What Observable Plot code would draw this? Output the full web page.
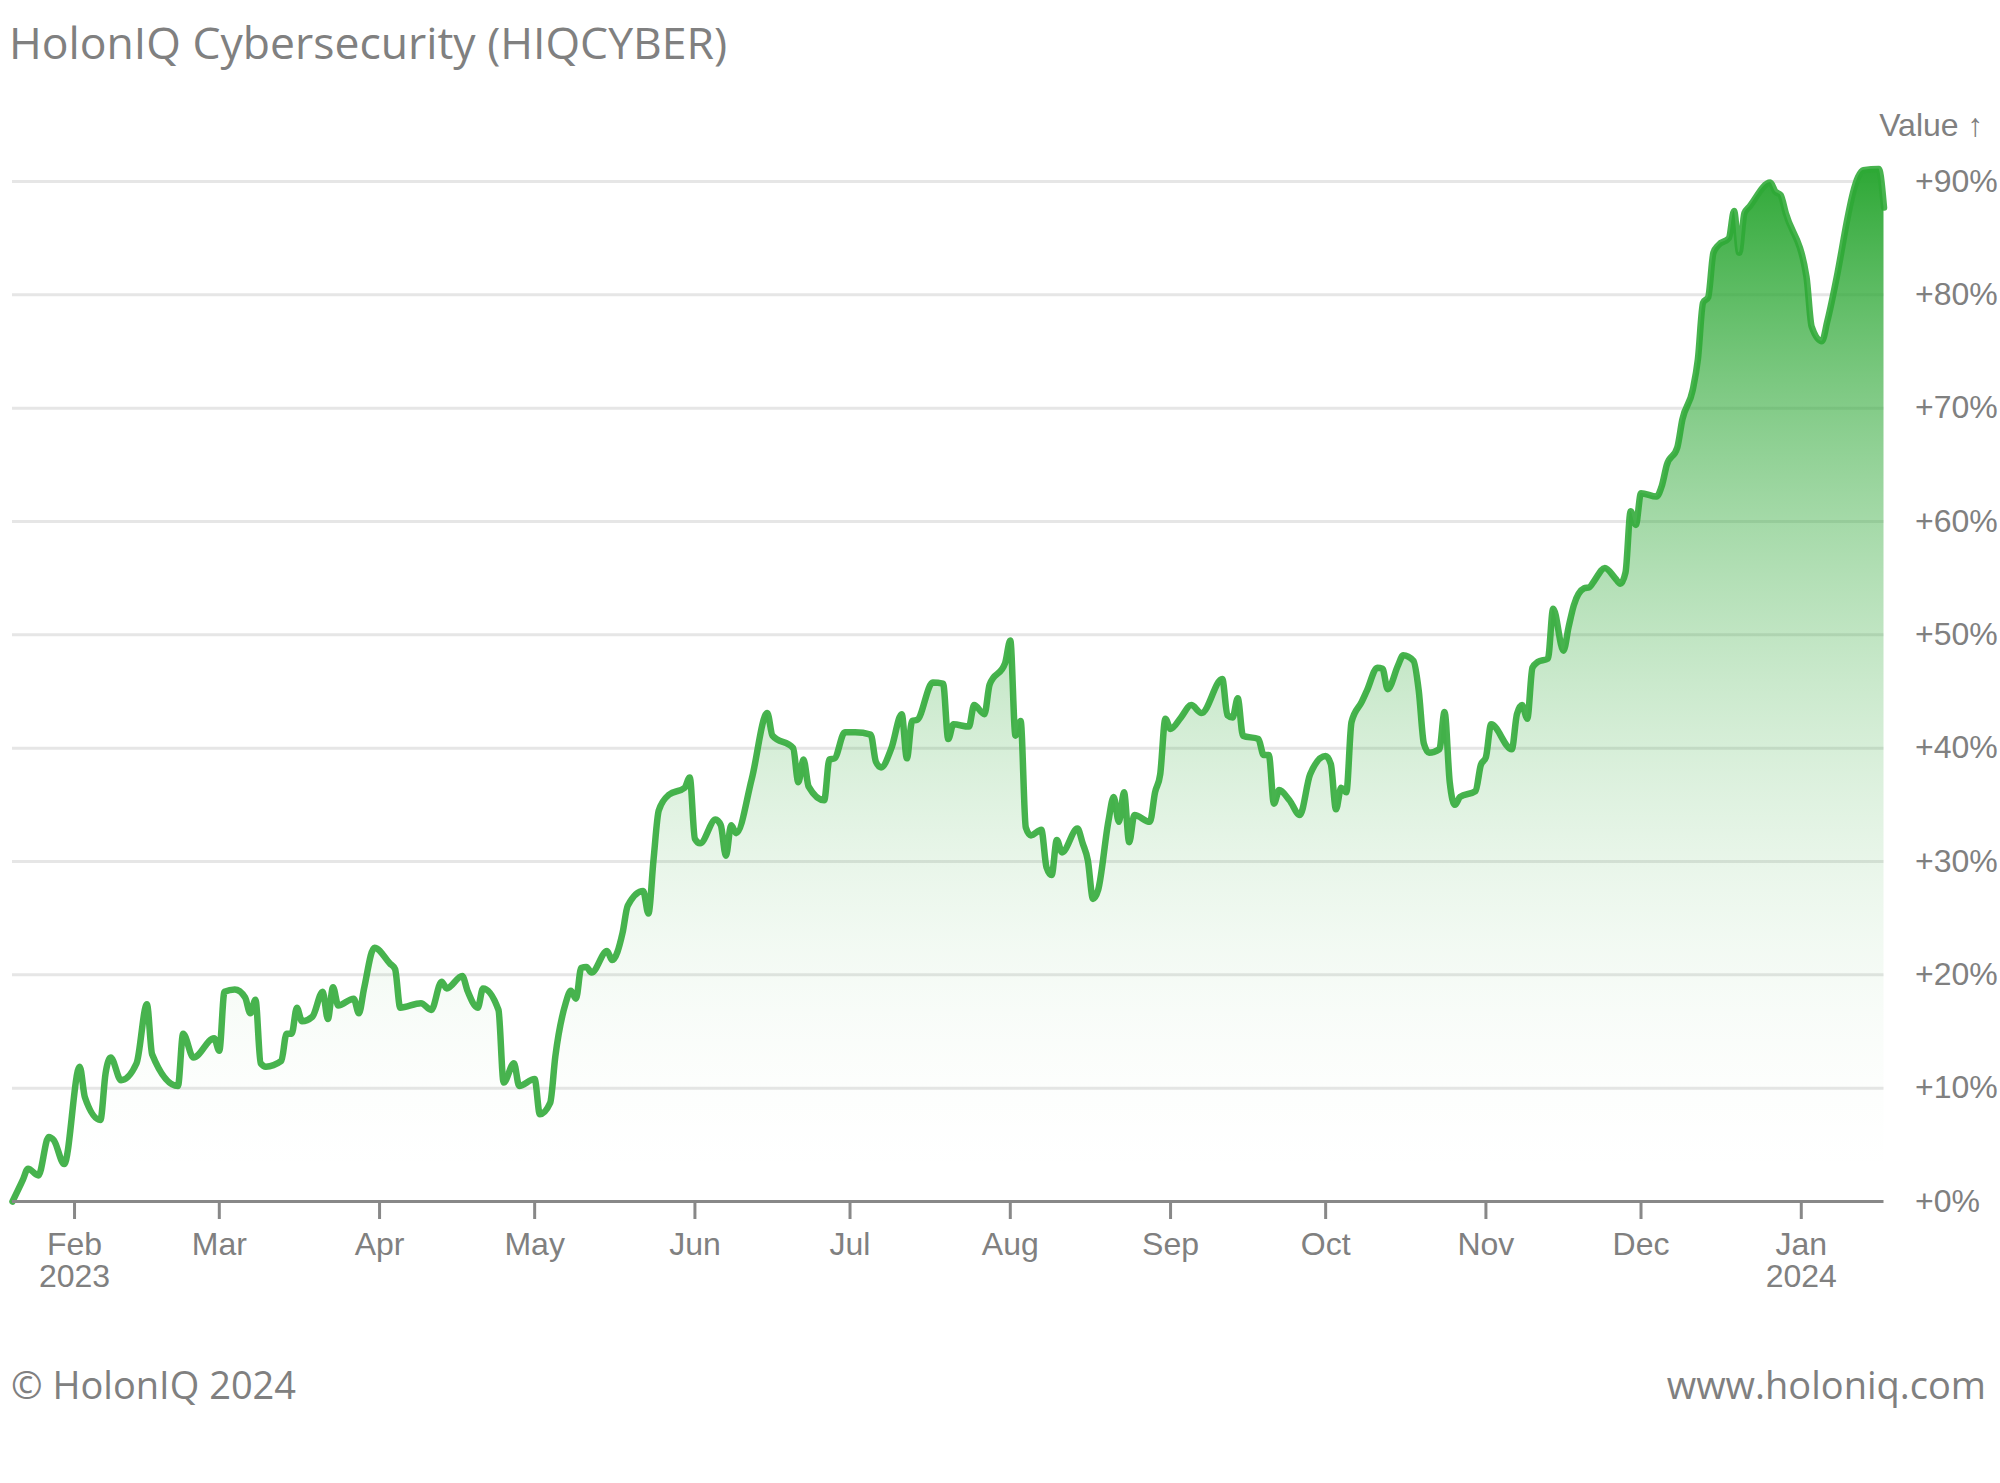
<!DOCTYPE html>
<html><head><meta charset="utf-8">
<script src="https://cdn.jsdelivr.net/npm/d3@7"></script>
<script src="https://cdn.jsdelivr.net/npm/@observablehq/plot@0.6"></script>
<style>
html,body{margin:0;padding:0;background:#fff;}
#title{height:110px;line-height:84px;font-family:"Open Sans",sans-serif;font-size:44.5px;color:#808080;padding-left:9px;white-space:nowrap;}
#footer{display:flex;justify-content:space-between;height:168px;line-height:168px;font-family:"Open Sans",sans-serif;font-size:38px;color:#808080;padding:0 14px 0 11px;}
svg{display:block;}
</style></head><body>
<div id="title">HolonIQ Cybersecurity (HIQCYBER)</div>
<div id="chart"></div>
<div id="footer"><span>© HolonIQ 2024</span><span>www.holoniq.com</span></div>
<script>
const dates = [
"2023-01-20","2023-01-22","2023-01-23","2023-01-25","2023-01-27","2023-01-28","2023-01-30",
"2023-02-02","2023-02-03","2023-02-06","2023-02-07","2023-02-08","2023-02-10","2023-02-13","2023-02-15","2023-02-16","2023-02-21","2023-02-22","2023-02-24","2023-02-28",
"2023-03-01","2023-03-02","2023-03-04","2023-03-06","2023-03-07","2023-03-08","2023-03-09","2023-03-10","2023-03-13","2023-03-14","2023-03-15","2023-03-16","2023-03-17","2023-03-19","2023-03-21","2023-03-22","2023-03-23","2023-03-24","2023-03-27","2023-03-28","2023-03-29","2023-03-31",
"2023-04-03","2023-04-04","2023-04-05","2023-04-09","2023-04-11","2023-04-13","2023-04-14","2023-04-17","2023-04-18","2023-04-20","2023-04-21","2023-04-24","2023-04-25","2023-04-27","2023-04-28",
"2023-05-01","2023-05-02","2023-05-04","2023-05-05","2023-05-07","2023-05-08","2023-05-09","2023-05-10","2023-05-11","2023-05-12","2023-05-15","2023-05-16","2023-05-18","2023-05-19","2023-05-22","2023-05-23","2023-05-24","2023-05-25","2023-05-27","2023-05-30","2023-05-31",
"2023-06-01","2023-06-02","2023-06-05","2023-06-06","2023-06-07","2023-06-08","2023-06-09","2023-06-12","2023-06-15","2023-06-16","2023-06-20","2023-06-21","2023-06-22","2023-06-23","2023-06-26","2023-06-27","2023-06-28","2023-06-30",
"2023-07-02","2023-07-05","2023-07-06","2023-07-07","2023-07-09","2023-07-11","2023-07-12","2023-07-13","2023-07-14","2023-07-17","2023-07-19","2023-07-20","2023-07-21","2023-07-24","2023-07-25","2023-07-27","2023-07-28","2023-07-31",
"2023-08-01","2023-08-02","2023-08-03","2023-08-04","2023-08-05","2023-08-07","2023-08-08","2023-08-09","2023-08-10","2023-08-11","2023-08-14","2023-08-15","2023-08-16","2023-08-17","2023-08-18","2023-08-20","2023-08-21","2023-08-22","2023-08-23","2023-08-24","2023-08-25","2023-08-28","2023-08-29","2023-08-30","2023-08-31",
"2023-09-01","2023-09-03","2023-09-05","2023-09-07","2023-09-11","2023-09-12","2023-09-13","2023-09-14","2023-09-15","2023-09-18","2023-09-19","2023-09-20","2023-09-21","2023-09-22","2023-09-24","2023-09-26","2023-09-28",
"2023-10-01","2023-10-02","2023-10-03","2023-10-04","2023-10-05","2023-10-06","2023-10-08","2023-10-09","2023-10-11","2023-10-12","2023-10-13","2023-10-15","2023-10-16","2023-10-18","2023-10-19","2023-10-20","2023-10-21","2023-10-23","2023-10-24","2023-10-25","2023-10-26","2023-10-27","2023-10-30","2023-10-31",
"2023-11-01","2023-11-02","2023-11-06","2023-11-07","2023-11-08","2023-11-09","2023-11-10","2023-11-11","2023-11-13","2023-11-14","2023-11-16","2023-11-17","2023-11-18","2023-11-20","2023-11-21","2023-11-22","2023-11-24","2023-11-26","2023-11-27","2023-11-28","2023-11-29","2023-11-30",
"2023-12-01","2023-12-04","2023-12-05","2023-12-06","2023-12-08","2023-12-09","2023-12-11","2023-12-12","2023-12-13","2023-12-14","2023-12-15","2023-12-16","2023-12-18","2023-12-19","2023-12-20","2023-12-21","2023-12-22","2023-12-26","2023-12-27","2023-12-28","2023-12-29",
"2024-01-02","2024-01-03","2024-01-05","2024-01-06","2024-01-08","2024-01-10","2024-01-11","2024-01-12","2024-01-13","2024-01-16","2024-01-17"
];
const values = [
0.0,1.9,2.9,2.3,5.7,5.4,3.3,
11.9,9.2,7.2,11.3,12.7,10.7,12.2,17.4,13.0,10.2,14.8,12.7,14.4,
13.3,18.5,18.7,18.0,16.6,17.8,12.2,11.9,12.4,14.8,14.8,17.1,15.9,16.3,18.5,16.1,18.9,17.3,17.9,16.6,18.8,22.4,
21.0,20.5,17.1,17.5,16.9,19.4,18.8,19.9,18.6,17.1,18.8,16.9,10.5,12.2,10.2,
10.8,7.7,8.7,12.8,17.5,18.6,17.9,20.6,20.7,20.2,22.1,21.3,23.7,26.1,27.4,25.4,30.2,34.5,35.9,36.5,37.4,
32.0,31.6,33.7,33.2,30.5,33.2,32.5,37.3,43.1,41.1,40.0,37.0,39.0,36.6,35.4,39.0,39.1,41.4,
41.4,41.2,38.8,38.3,40.0,43.0,39.1,42.4,42.5,45.8,45.7,40.8,42.1,41.9,43.8,43.0,45.6,47.5,
49.5,41.1,42.4,33.0,32.3,32.8,29.5,28.8,31.9,30.8,32.9,31.6,30.1,26.7,27.5,33.6,35.7,33.5,36.1,31.7,34.1,33.5,36.1,37.7,42.6,
41.7,42.7,43.8,43.1,46.1,42.9,42.7,44.4,41.1,40.8,39.4,39.4,35.1,36.3,35.4,34.1,37.7,
39.3,38.6,34.6,36.5,36.1,42.3,44.1,45.1,47.1,47.0,45.2,47.3,48.2,47.7,45.1,40.4,39.6,39.9,43.2,37.0,35.0,35.7,36.2,38.5,
39.2,42.1,39.9,43.0,43.8,42.6,47.1,47.6,47.9,52.3,48.6,50.7,52.6,54.1,54.2,54.8,55.9,55.0,54.5,55.5,60.9,59.7,
62.5,62.2,63.1,65.0,66.5,69.0,71.6,74.3,79.3,79.8,83.7,84.4,85.0,87.4,83.7,87.2,87.8,89.9,89.1,88.8,87.2,
81.6,77.2,75.9,77.6,81.9,86.9,89.0,90.4,91.0,91.1,87.7
];
const monthTicks = ["2023-02-01","2023-03-01","2023-04-01","2023-05-01","2023-06-01","2023-07-01","2023-08-01","2023-09-01","2023-10-01","2023-11-01","2023-12-01","2024-01-01"];
const yTicks = [0,10,20,30,40,50,60,70,80,90];

const data = dates.map((d, i) => ({date: new Date(d + "T00:00:00Z"), value: values[i]}));
const tickDates = monthTicks.map(d => new Date(d + "T00:00:00Z"));
const green = "#2ea836";
const fmtMon = d3.utcFormat("%b");
const firstTick = tickDates[0].getTime();
const xFormat = d => (d.getTime() === firstTick || d.getUTCMonth() === 0) ? `${fmtMon(d)}\n${d.getUTCFullYear()}` : fmtMon(d);

const gradientDefs = () => {
  const defs = d3.create("svg:defs");
  const g = defs.append("linearGradient").attr("id", "fillGrad")
    .attr("x1", 0).attr("x2", 0).attr("y1", 0).attr("y2", 1);
  for (let k = 0; k <= 20; k++) {
    const t = k / 20;
    g.append("stop").attr("offset", t).attr("stop-color", green).attr("stop-opacity", (1 - t) * (1 - t));
  }
  return defs.node();
};

const chart = Plot.plot({
  width: 2000,
  height: 1190,
  marginTop: 58.5,
  marginBottom: 99,
  marginLeft: 12,
  marginRight: 116.5,
  style: {fontFamily: "'Liberation Sans', Arial, sans-serif", fontSize: "32px", color: "#808080", background: "#fff", overflow: "visible"},
  x: {type: "utc", domain: d3.extent(data, d => d.date)},
  y: {domain: [0, d3.max(values)]},
  marks: [
    gradientDefs,
    Plot.gridY(yTicks.filter(v => v > 0), {stroke: "#e6e6e6", strokeWidth: 3, strokeOpacity: 1}),
    Plot.areaY(data, {x: "date", y: "value", fill: "url(#fillGrad)", curve: "monotone-x"}),
    Plot.lineY(data, {x: "date", y: "value", stroke: green, strokeOpacity: 0.88, strokeWidth: 6.5, curve: "monotone-x", strokeLinejoin: "round", strokeLinecap: "round"}),
    Plot.ruleY([0], {stroke: "#888", strokeWidth: 3}),
    Plot.axisX(tickDates, {tickSize: 18, tickPadding: 13, stroke: "#888", strokeWidth: 3, fontSize: 32, tickFormat: xFormat, label: null}),
    Plot.axisY(yTicks, {anchor: "right", tickSize: 0, tickPadding: 31, fontSize: 32, tickFormat: d => `+${d}%`, label: "Value ↑", labelArrow: "none", labelOffset: 99.5})
  ]
});
document.getElementById("chart").appendChild(chart);
</script>
</body></html>
